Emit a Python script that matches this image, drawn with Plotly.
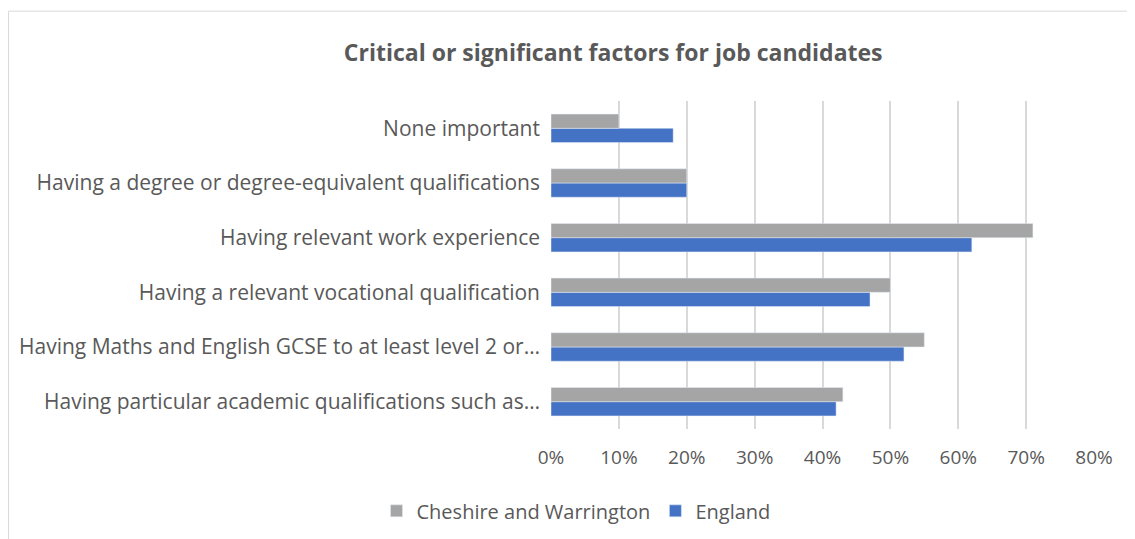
import plotly.graph_objects as go

categories = [
    "Having particular academic qualifications such as…",
    "Having Maths and English GCSE to at least level 2 or…",
    "Having a relevant vocational qualification",
    "Having relevant work experience",
    "Having a degree or degree-equivalent qualifications",
    "None important",
]
cheshire = [0.43, 0.55, 0.50, 0.71, 0.20, 0.10]
england = [0.42, 0.52, 0.47, 0.62, 0.20, 0.18]
x_ticks = [0, 0.1, 0.2, 0.3, 0.4, 0.5, 0.6, 0.7, 0.8]

text_col = "#595959"
fnt = "Open Sans"

fig = go.Figure()

# England first so it sits below the grey bar inside each group
fig.add_trace(go.Bar(
    y=categories, x=england, orientation="h",
    name="England", marker=dict(color="#4472c4"), legendrank=2
))
fig.add_trace(go.Bar(
    y=categories, x=cheshire, orientation="h",
    name="Cheshire and Warrington", marker=dict(color="#a5a5a5"), legendrank=1
))

fig.update_layout(
    width=1127, height=531,
    margin=dict(l=543, r=41, t=93, b=110),
    paper_bgcolor="white", plot_bgcolor="white",
    barmode="group", bargap=0.48, bargroupgap=0,
    title=dict(
        text="<b>Critical or significant factors for job candidates</b>",
        x=0.537, xanchor="center", y=0.915, yanchor="middle",
        font=dict(family=fnt, size=23, color=text_col)
    ),
    font=dict(family=fnt, size=20, color=text_col),
    legend=dict(
        orientation="h", xref="container", yref="container",
        x=0.504, xanchor="center", y=0.053, yanchor="middle",
        font=dict(family=fnt, size=20, color=text_col)
    ),
    xaxis=dict(
        range=[0, 0.8], tickvals=x_ticks, tickformat=".0%",
        showgrid=True, gridcolor="#d9d9d9", gridwidth=1.5,
        zeroline=False, showline=False, ticks="", ticklabelstandoff=15,
        tickfont=dict(size=19, color=text_col)
    ),
    yaxis=dict(
        showgrid=False, zeroline=False, showline=False, ticks="",
        ticklabelstandoff=10, tickfont=dict(size=21, color=text_col)
    ),
    shapes=[dict(
        type="rect", xref="paper", yref="paper",
        x0=-0.999, x1=1.2, y0=-0.5, y1=1.274,
        line=dict(color="#d9d9d9", width=1), layer="below"
    )],
)

fig.write_html("out.html")
